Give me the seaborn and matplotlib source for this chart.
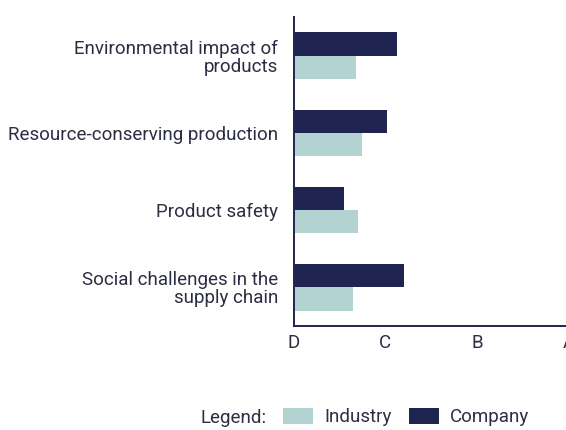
import numpy as np
import pandas as pd
import matplotlib
matplotlib.use('Agg')
import matplotlib.pyplot as plt
import seaborn as sns
from matplotlib.patches import Patch

# data (grade scale: D=0, C=1, B=2, A=3)
topics = ['Environmental impact of\nproducts', 'Resource-conserving production',
          'Product safety', 'Social challenges in the\nsupply chain']
company = [1.13, 1.02, 0.55, 1.20]
industry = [0.68, 0.75, 0.70, 0.65]
grades = ['D', 'C', 'B', 'A']

navy = '#1f2550'
teal = '#b2d3d1'
textc = '#2b2d42'

df = pd.DataFrame({
    'Topic': topics * 2,
    'Score': company + industry,
    'Group': ['Company'] * 4 + ['Industry'] * 4,
})

sns.set_style('white')
plt.rcParams['font.family'] = ['Roboto', 'DejaVu Sans']

fig = plt.figure(figsize=(5.66, 4.30), dpi=100)
ax = fig.add_axes([0.5186, 0.2419, 0.4860, 0.7186])

sns.barplot(data=df, y='Topic', x='Score', hue='Group', hue_order=['Company', 'Industry'],
            palette={'Company': navy, 'Industry': teal}, orient='h', width=0.6,
            ax=ax, legend=False, saturation=1, linewidth=0)

ax.set_xlim(0, 3)
ax.set_ylim(3.5, -0.5)
ax.set_xticks(range(4))
ax.set_xticklabels(grades, fontsize=13.5, color=textc)
ax.set_yticks(range(4))
ax.set_yticklabels(topics, fontsize=13.5, color=textc, ha='right', multialignment='right',
                   linespacing=1.0)
ax.set_yticks([-0.5, 0.5, 1.5, 2.5], minor=True)
ax.tick_params(axis='y', which='major', length=0, pad=11)
ax.tick_params(axis='y', which='minor', length=4, width=1.3, color=navy, direction='out')
ax.tick_params(axis='x', which='major', length=4, width=1.3, color=navy, direction='out', pad=2)
ax.set_xlabel('')
ax.set_ylabel('')
for s in ['top', 'right']:
    ax.spines[s].set_visible(False)
for s in ['left', 'bottom']:
    ax.spines[s].set_color(navy)
    ax.spines[s].set_linewidth(1.4)

fig.text(200 / 566, 1 - 418 / 430, 'Legend:', fontsize=13.5, color=textc, va='center')
handles = [Patch(facecolor=teal, edgecolor='none', label='Industry'),
           Patch(facecolor=navy, edgecolor='none', label='Company')]
leg = fig.legend(handles=handles, loc='center left', bbox_to_anchor=(283 / 566, 1 - 417 / 430),
                 ncol=2, frameon=False, fontsize=13.5, handlelength=1.6, handleheight=1.0,
                 handletextpad=0.6, columnspacing=0.9, borderpad=0, borderaxespad=0)
for t in leg.get_texts():
    t.set_color(textc)

fig.savefig('out.png', dpi=100)
